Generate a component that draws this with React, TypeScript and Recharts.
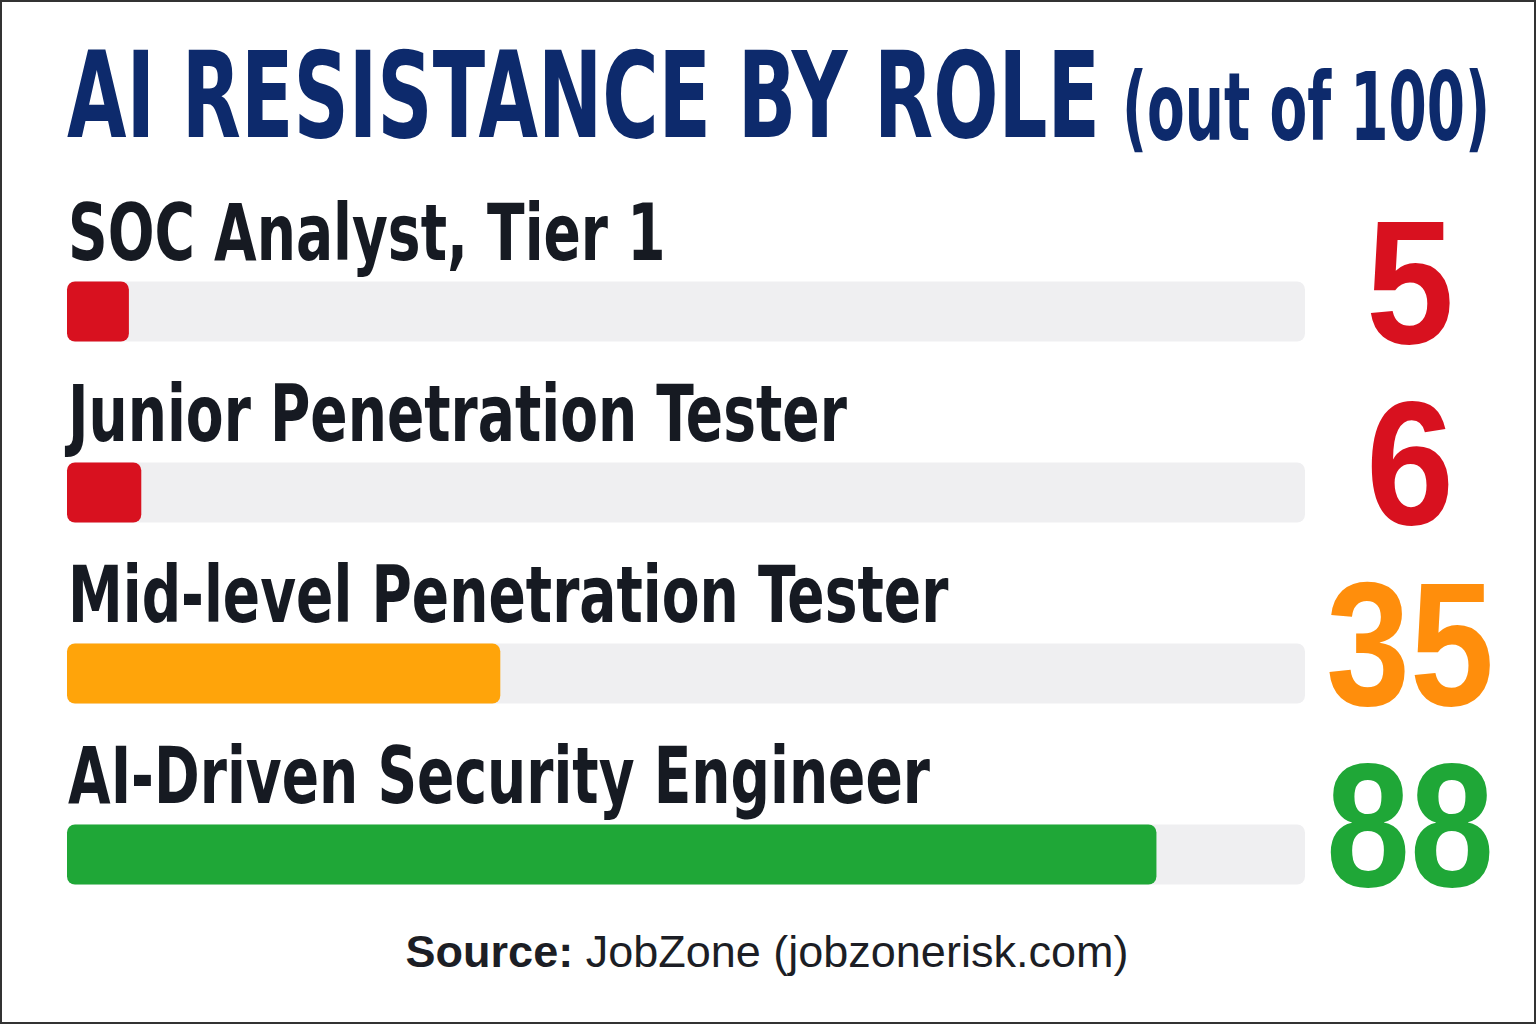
import { Bar, BarChart, Cell, LabelList, XAxis, YAxis } from "recharts";

const roles = [
  "SOC Analyst, Tier 1",
  "Junior Penetration Tester",
  "Mid-level Penetration Tester",
  "AI-Driven Security Engineer",
];
const scores = [5, 6, 35, 88];
const scaleMax = 100;

const TITLE = "AI RESISTANCE BY ROLE";
const SUBTITLE = "(out of 100)";
const SOURCE_LABEL = "Source:";
const SOURCE_TEXT = " JobZone (jobzonerisk.com)";

const NAVY = "#0d2a6c";
const INK = "#161a22";
const TRACK = "#efeff1";
const NARROW = "'DejaVu Sans Condensed', 'DejaVu Sans', sans-serif";
const SANS = "'Liberation Sans', Arial, sans-serif";

// red / orange / green bands by score
function barColor(v: number) {
  if (v < 20) return "#d8111f";
  if (v < 60) return "#ffa40a";
  return "#1fa737";
}
function numberColor(v: number) {
  if (v < 20) return "#d8111f";
  if (v < 60) return "#ff8e0c";
  return "#1fa737";
}

const data = roles.map((role, i) => ({ role, score: scores[i] }));

const VALUE_X = 1410;
const SQUEEZE = 0.785; // condensed look for the role names

function RoleLabel(props: any) {
  const { x, y, value } = props;
  return (
    <text
      transform={`translate(${Number(x) + 1} ${Number(y) - 22}) scale(${SQUEEZE} 1)`}
      fill={INK}
      fontFamily={NARROW}
      fontWeight={700}
      fontSize={78}
    >
      {value}
    </text>
  );
}

function ScoreLabel(props: any) {
  const { y, height, value } = props;
  const s = String(value);
  return (
    <text
      x={VALUE_X}
      y={Number(y) + Number(height) + 1}
      textAnchor="middle"
      fill={numberColor(Number(value))}
      fontFamily={SANS}
      fontWeight={700}
      fontSize={176}
      textLength={s.length * 80 + 8}
      lengthAdjust="spacingAndGlyphs"
    >
      {s}
    </text>
  );
}

function Squeezed({ x, y, size, width, sx, children }: any) {
  return (
    <text
      transform={`translate(${x} ${y}) scale(${sx} 1)`}
      fill={NAVY}
      fontFamily={NARROW}
      fontWeight={700}
      fontSize={size}
      textLength={width / sx}
      lengthAdjust="spacingAndGlyphs"
    >
      {children}
    </text>
  );
}

export default function App() {
  return (
    <div
      style={{
        position: "absolute",
        left: 0,
        top: 0,
        width: 1536,
        height: 1024,
        background: "#fff",
        border: "2px solid #333",
        boxSizing: "border-box",
        overflow: "hidden",
      }}
    >
      <div style={{ position: "absolute", left: -2, top: -2 }}>
        <BarChart
          width={1536}
          height={1024}
          data={data}
          layout="vertical"
          margin={{ top: 220.5, right: 231, bottom: 79.5, left: 67 }}
        >
          <XAxis type="number" domain={[0, scaleMax]} hide />
          <YAxis type="category" dataKey="role" hide />
          <Bar
            dataKey="score"
            barSize={60}
            radius={8}
            background={{ fill: TRACK, radius: 8 }}
            isAnimationActive={false}
          >
            {data.map((d, i) => (
              <Cell key={i} fill={barColor(d.score)} />
            ))}
            <LabelList dataKey="role" content={RoleLabel} />
            <LabelList dataKey="score" content={ScoreLabel} />
          </Bar>
        </BarChart>
        <svg
          width={1536}
          height={1024}
          style={{ position: "absolute", left: 0, top: 0, pointerEvents: "none" }}
        >
          <Squeezed x={67} y={137} size={119} width={1033} sx={0.7}>
            {TITLE}
          </Squeezed>
          <Squeezed x={1122} y={140} size={95} width={368} sx={0.72}>
            {SUBTITLE}
          </Squeezed>
          <text x={767} y={967} textAnchor="middle" fill="#1c1e25" fontFamily={SANS} fontSize={45}>
            <tspan fontWeight={700}>{SOURCE_LABEL}</tspan>
            <tspan>{SOURCE_TEXT}</tspan>
          </text>
        </svg>
      </div>
    </div>
  );
}
